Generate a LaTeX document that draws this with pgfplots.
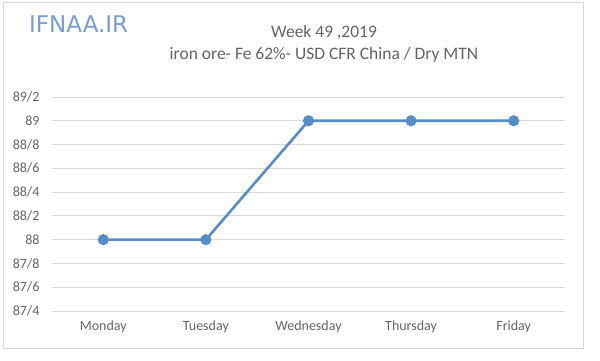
\documentclass[border=0pt]{standalone}
\usepackage{pgfplots}
\pgfplotsset{compat=1.18}
\usepackage{fontspec}
\setmainfont{Carlito}
\newfontfamily\logofont{DejaVu Sans}
\definecolor{linec}{RGB}{86,140,202}
\definecolor{gridc}{RGB}{217,217,217}
\definecolor{txtc}{RGB}{100,100,100}
\definecolor{logoc}{RGB}{120,156,214}
\begin{document}
\begin{tikzpicture}[x=1pt,y=1pt]
\path (0,0) rectangle (600,361);
\draw[gridc, line width=0.8pt] (3,13) rectangle (583,359);
\node[anchor=base west, inner sep=0, text=logoc, font=\logofont\fontsize{23}{23}\selectfont] at (29,328) {IFNAA.IR};
\node[anchor=base, inner sep=0, text=txtc, font=\fontsize{17.5}{17.5}\selectfont] at (324,323) {Week 49 ,2019};
\node[anchor=base, inner sep=0, text=txtc, font=\fontsize{17.5}{17.5}\selectfont] at (324,301) {iron ore- Fe 62\%- USD CFR China / Dry MTN};
\begin{axis}[
  at={(52pt,50pt)}, anchor=south west,
  scale only axis, width=513pt, height=214pt,
  xmin=-0.5, xmax=4.5, ymin=87.4, ymax=89.2,
  xtick={0,1,2,3,4},
  xticklabels={Monday,Tuesday,Wednesday,Thursday,Friday},
  ytick={87.4,87.6,87.8,88,88.2,88.4,88.6,88.8,89,89.2},
  yticklabels={87/4,87/6,87/8,88,88/2,88/4,88/6,88/8,89,89/2},
  ymajorgrids, major grid style={gridc, line width=0.9pt},
  axis line style={draw=none},
  major tick length=0pt,
  tick label style={text=txtc, font=\fontsize{14}{14}\selectfont},
  yticklabel style={xshift=-9pt},
  xticklabel style={yshift=-6pt},
  clip=false,
]
\addplot[linec, line width=2.6pt, mark=*, mark size=4.2pt, mark options={solid, fill=linec, draw=none}] coordinates {(0,88) (1,88) (2,89) (3,89) (4,89)};
\end{axis}
\end{tikzpicture}
\end{document}
